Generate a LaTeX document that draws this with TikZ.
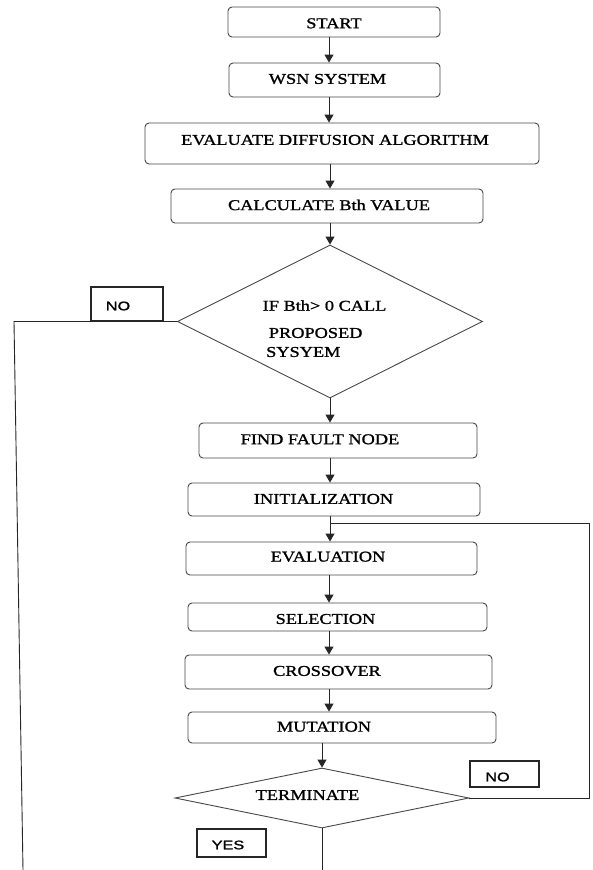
\documentclass[tikz,border=0pt]{standalone}
\usepackage{fontspec}
\usetikzlibrary{shapes.geometric,arrows.meta}
\newfontfamily\boxfont[FakeStretch=1.22,FakeBold=1.2]{Liberation Serif}
\newfontfamily\lblfont[FakeStretch=1.3,FakeBold=1.5]{Liberation Sans}
\begin{document}
\begin{tikzpicture}[x=1pt,y=-1pt,
  stepbox/.style={draw=black!72,line width=0.9pt,rounded corners=4pt,inner sep=0pt},
  txt/.style={inner sep=0pt,font=\boxfont\fontsize{15}{18}\selectfont,text=black},
  lbltxt/.style={inner sep=0pt,font=\lblfont\fontsize{12.5}{15}\selectfont,text=black},
  lblbox/.style={draw=black!85,line width=1.1pt,inner sep=0pt},
  decision/.style={draw=black!72,line width=0.9pt,shape=diamond,inner sep=0pt},
  conn/.style={draw=black!85,line width=0.9pt},
  arr/.style={conn,-{Triangle[length=8pt,width=9pt]}}]
\useasboundingbox (0,0) rectangle (592,870);
\fill[white] (0,0) rectangle (592,870);
% boxes
\node[stepbox,minimum width=212pt,minimum height=30pt] (start) at (334,22) {};
\node[stepbox,minimum width=211pt,minimum height=34pt] (wsn) at (334.5,80) {};
\node[stepbox,minimum width=394pt,minimum height=41pt] (diff) at (342,143.5) {};
\node[stepbox,minimum width=312pt,minimum height=34pt] (calc) at (327,206) {};
\node[decision,minimum width=305pt,minimum height=153pt] (dec) at (330,321.5) {};
\node[stepbox,minimum width=278pt,minimum height=35pt] (find) at (338,440.5) {};
\node[stepbox,minimum width=292pt,minimum height=33pt] (init) at (334,499.5) {};
\node[stepbox,minimum width=291pt,minimum height=33pt] (eval) at (331.5,558.5) {};
\node[stepbox,minimum width=299pt,minimum height=28pt] (sel) at (337.5,617) {};
\node[stepbox,minimum width=307pt,minimum height=34pt] (cross) at (338.5,672) {};
\node[stepbox,minimum width=308pt,minimum height=31pt] (mut) at (342,727.5) {};
\node[decision,minimum width=294pt,minimum height=60pt] (term) at (322,798) {};
% texts
\node[txt] (startt) at (334,23.3) {START};
\node[txt] (wsnt) at (327.5,79) {WSN SYSTEM};
\node[txt] (difft) at (335,140) {EVALUATE DIFFUSION ALGORITHM};
\node[txt] (calct) at (329,205) {CALCULATE Bth VALUE};
\node[txt,anchor=west] (dect1) at (262.5,305.6) {IF Bth> 0 CALL};
\node[txt,anchor=west] (dect2) at (268.7,333) {PROPOSED};
\node[txt,anchor=west] (dect3) at (266,352) {SYSYEM};
\node[txt] (findt) at (320,439.3) {FIND FAULT NODE};
\node[txt] (initt) at (323.5,499) {INITIALIZATION};
\node[txt] (evalt) at (328,556.7) {EVALUATION};
\node[txt] (selt) at (325.5,619) {SELECTION};
\node[txt] (crosst) at (327,671) {CROSSOVER};
\node[txt] (mutt) at (324,726.7) {MUTATION};
\node[txt] (termt) at (307.5,795) {TERMINATE};
% label boxes
\node[lblbox,minimum width=72pt,minimum height=34pt] (nol) at (127,304) {};
\node[lbltxt] (nolt) at (118,306) {NO};
\node[lblbox,minimum width=69pt,minimum height=26pt] (nor) at (504.5,774) {};
\node[lbltxt] (nort) at (497.5,777) {NO};
\node[lblbox,minimum width=69pt,minimum height=28pt] (yes) at (231.5,843) {};
\node[lbltxt] (yest) at (228,845) {YES};
% helper coordinates
\coordinate (c329) at (329,0);
\coordinate (c330) at (330,0);
\coordinate (loopc) at (589,523);
\coordinate (loopj) at (330,523);
\coordinate (nocorner) at (14,321.5);
\coordinate (noend) at (23,870);
\coordinate (yesend) at (322,870);
% arrows
\draw[arr] (start.south -| c329) -- (wsn.north -| c329);
\draw[arr] (wsn.south -| c329) -- (diff.north -| c329);
\draw[arr] (diff.south -| c330) -- (calc.north -| c330);
\draw[arr] (calc.south -| dec.north) -- (dec.north);
\draw[arr] (dec.south) -- (find.north -| dec.south);
\draw[arr] (find.south -| c330) -- (init.north -| c330);
\draw[arr] (init.south -| c330) -- (eval.north -| c330);
\draw[arr] (eval.south -| c329) -- (sel.north -| c329);
\draw[arr] (sel.south -| c329) -- (cross.north -| c329);
\draw[arr] (cross.south -| c329) -- (mut.north -| c329);
\draw[arr] (mut.south -| term.north) -- (term.north);
% loop back (NO)
\draw[conn] (term.east) -| (loopc) -- (loopj);
% NO branch from first decision
\draw[conn] (dec.west) -- (nocorner) -- (noend);
% YES branch
\draw[conn] (term.south) -- (yesend);
\end{tikzpicture}
\end{document}
